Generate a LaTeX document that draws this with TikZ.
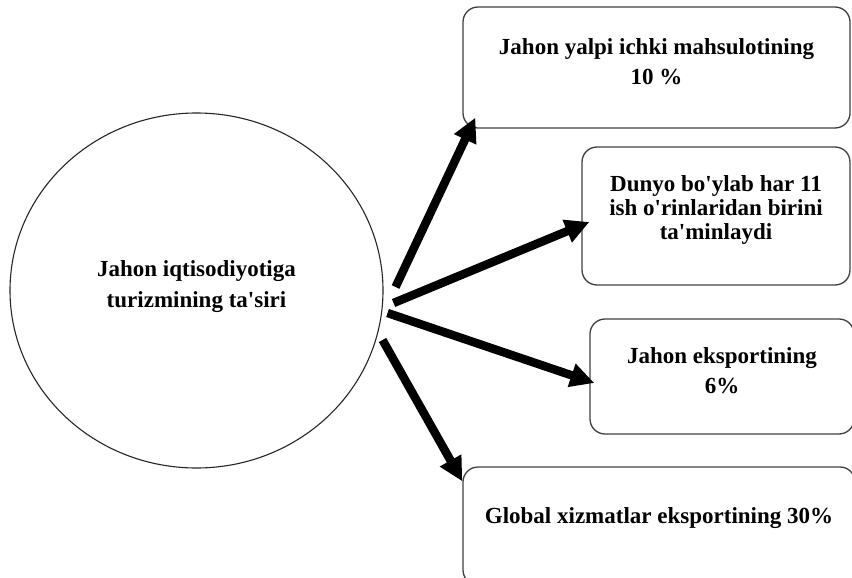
\documentclass[tikz,border=0pt]{standalone}
\usepackage{fontspec}
\setmainfont{Liberation Serif}
\usetikzlibrary{positioning,arrows.meta,shapes.geometric}

\newcommand{\apos}{\textquotesingle}

\begin{document}
\begin{tikzpicture}[
  x=1pt, y=-1pt,
  font=\bfseries\fontsize{23}{28}\selectfont,
  hubnode/.style={draw=black!85, ellipse, line width=1.1pt,
                  minimum width=373pt, minimum height=355pt, inner sep=0pt},
  box/.style={draw=black!75, rounded corners=15pt, line width=1.3pt, inner sep=0pt},
  txt/.style={align=center, inner sep=0pt},
  arr/.style={-{Triangle[length=24pt, width=23pt]}, line width=8.5pt}]

\useasboundingbox (0,0) rectangle (852,578);

% ---- centre ----
\node[hubnode, label={[txt, yshift=4pt]center:Jahon iqtisodiyotiga\\[3pt]turizmining ta\apos siri}]
  (hub) at (196.5,290.5) {};

% ---- boxes on the right ----
\node[box, minimum width=387pt, minimum height=121pt,
      label={[txt, yshift=6pt]center:Jahon yalpi ichki mahsulotining\\[2pt]10 \%}]
  (gdp) at (656.5,67.5) {};
\node[box, minimum width=268pt, minimum height=138pt,
      label={[txt, yshift=6pt]center:Dunyo bo\apos ylab har 11\\[-4pt]ish o\apos rinlaridan birini\\[-4pt]ta\apos minlaydi}]
  (jobs) at (716,216) {};
\node[box, minimum width=264pt, minimum height=115pt,
      label={[txt, yshift=6pt]center:Jahon eksportining\\[2pt]6\%}]
  (exp) at (722,376.5) {};
\node[box, minimum width=392pt, minimum height=118pt,
      label={[txt, yshift=8pt]center:Global xizmatlar eksportining 30\%}]
  (svc) at (659,526) {};

% ---- arrows ----
\coordinate (s1) at ([shift={(12,-3.5)}]hub.east);
\coordinate (s2) at ([shift={(10,12.5)}]hub.east);
\coordinate (s3) at ([shift={(4,22.5)}]hub.east);
\coordinate (s4) at ([shift={(-1,49.5)}]hub.east);

\draw[arr] (s1) -- ([shift={(13,-11)}]gdp.south west);
\draw[arr] (s2) -- ([shift={(8,6)}]jobs.west);
\draw[arr] (s3) -- ([shift={(5,6.5)}]exp.west);
\draw[arr] (s4) -- ([shift={(0,15)}]svc.north west);
\end{tikzpicture}
\end{document}
